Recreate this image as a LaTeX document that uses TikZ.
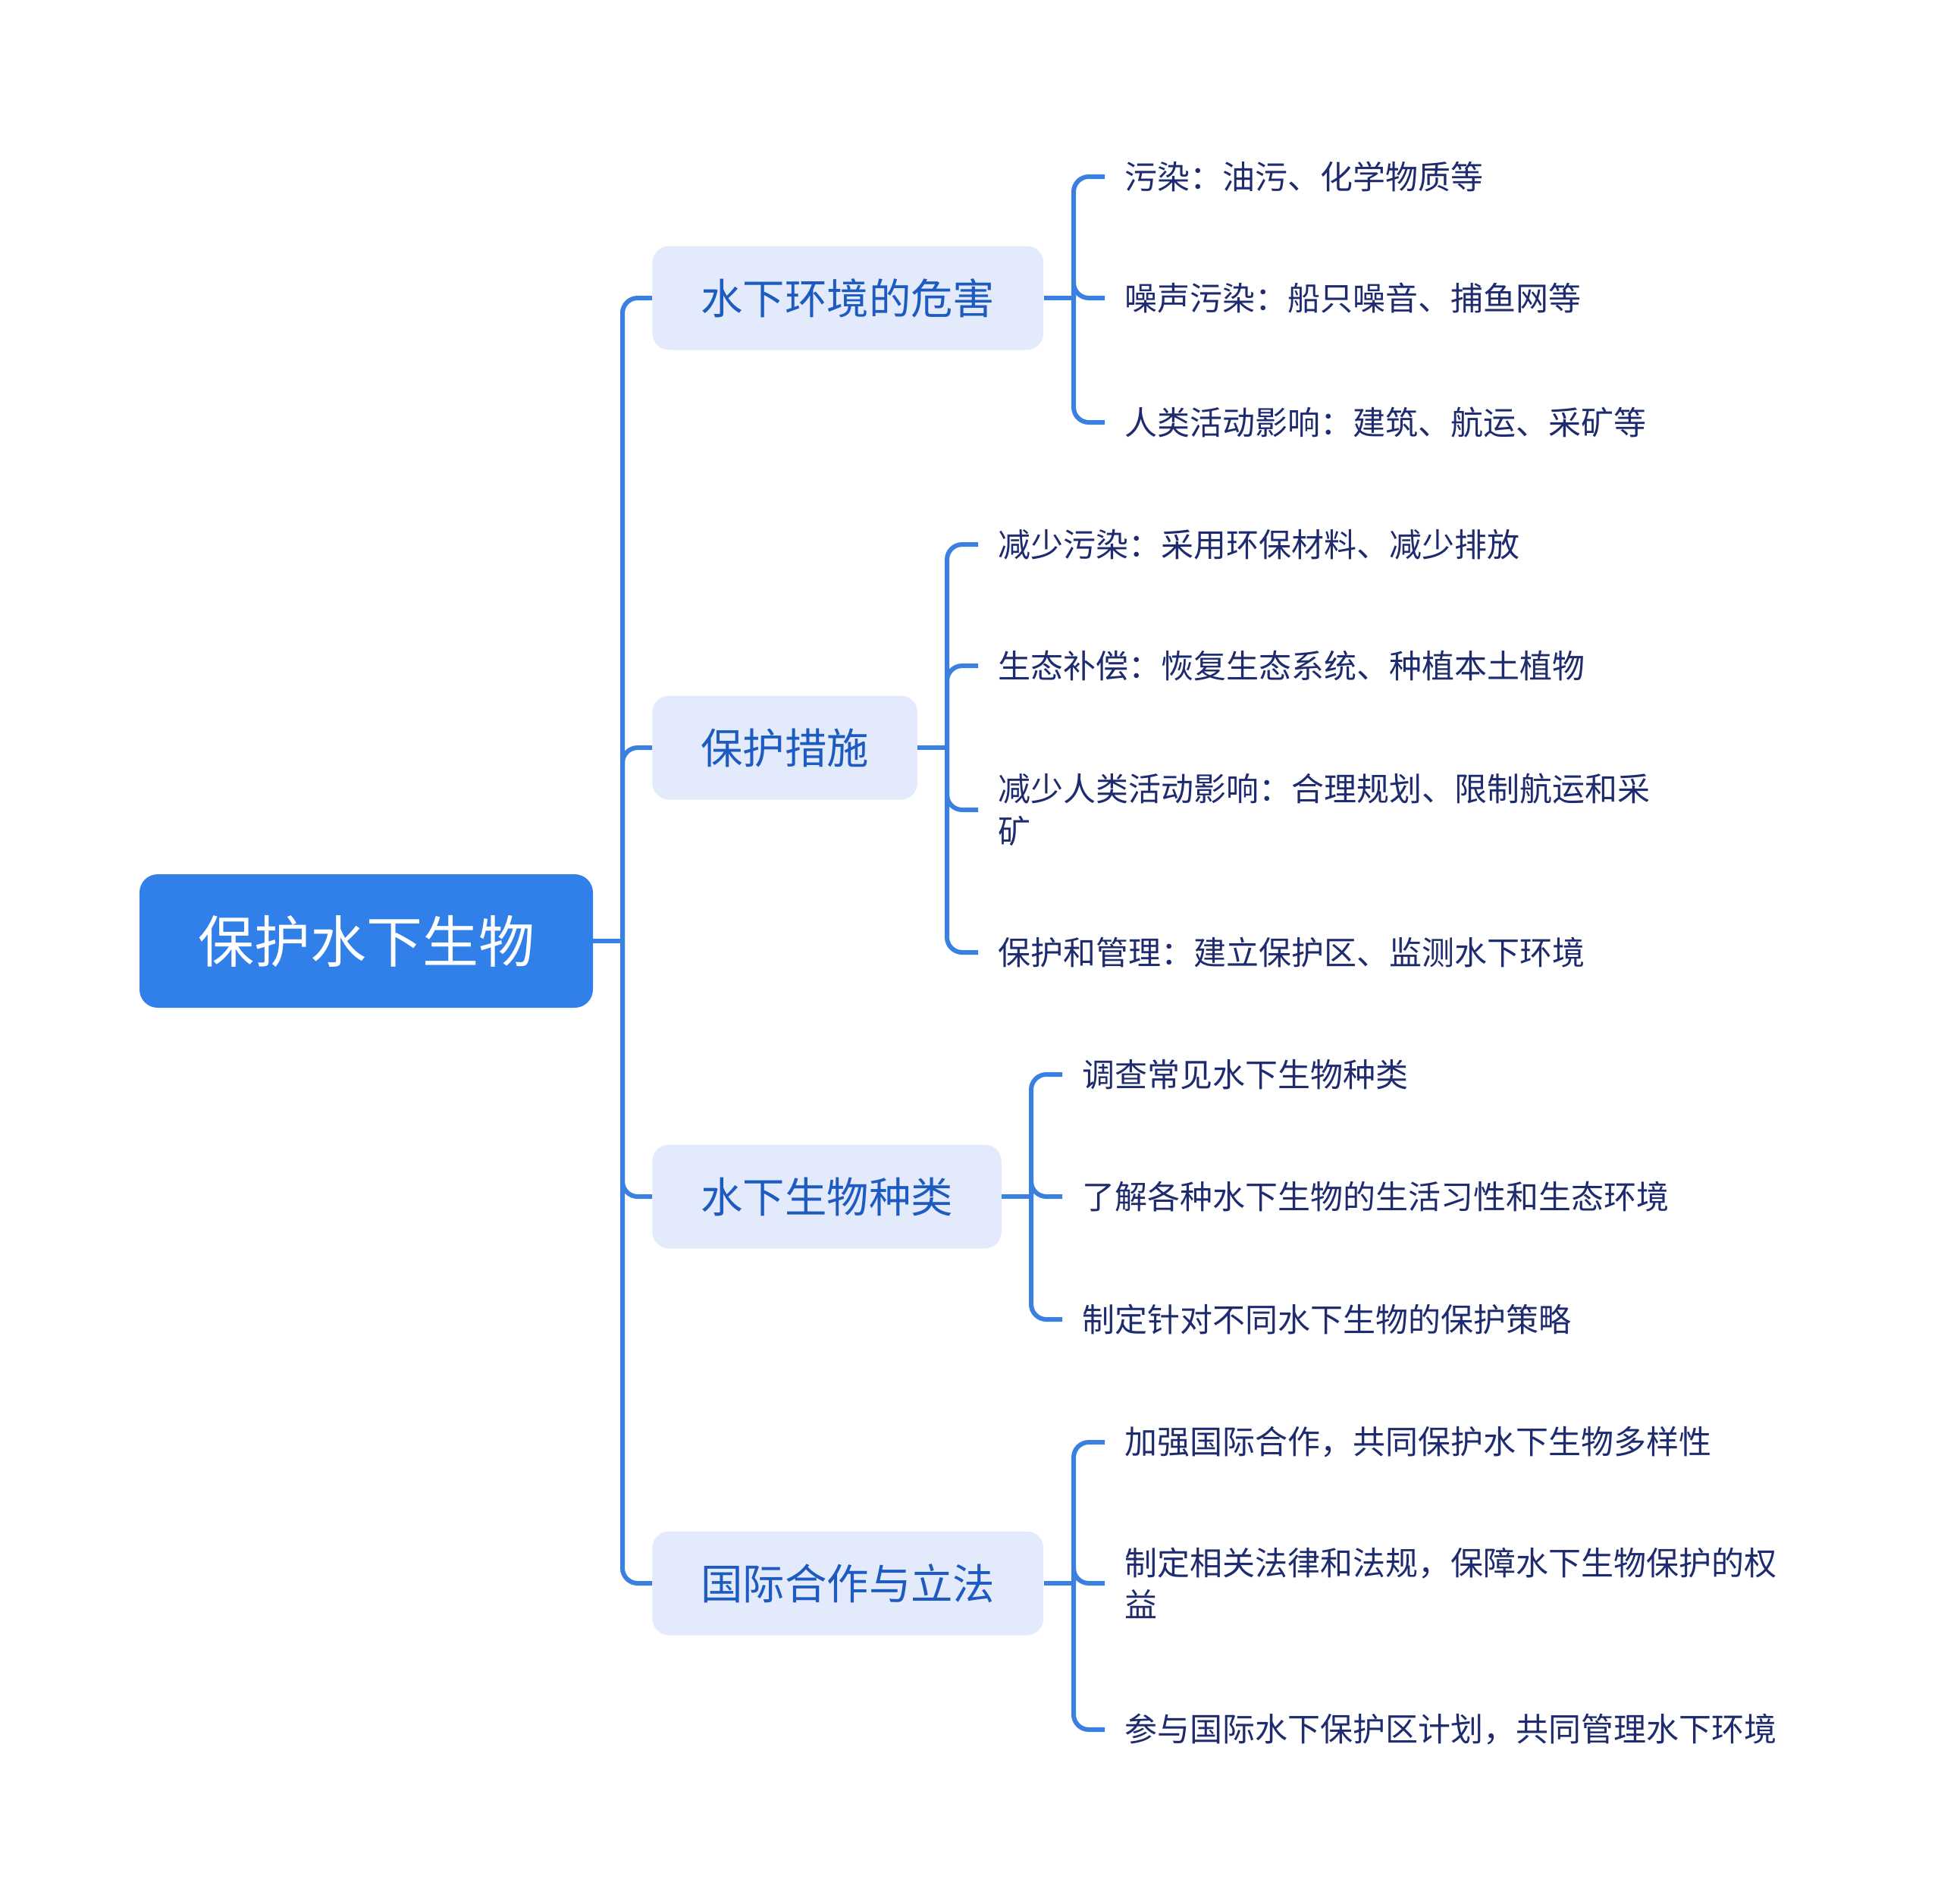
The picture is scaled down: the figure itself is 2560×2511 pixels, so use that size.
\documentclass[tikz,border=0pt]{standalone}
\usepackage{fontspec}
\setmainfont{Noto Sans CJK SC}
\definecolor{rootblue}{HTML}{3180E9}
\definecolor{linkblue}{HTML}{3A80E0}
\definecolor{subfill}{HTML}{E3EAFB}
\definecolor{subtext}{HTML}{1D5BC0}
\definecolor{leaftext}{HTML}{1E2B6E}
\begin{document}
\begin{tikzpicture}[x=0.5pt,y=-0.5pt,
  conn/.style={draw=linkblue,line width=3pt},
  elbow/.style={conn,rounded corners=10pt},
  rootbox/.style={fill=rootblue,rounded corners=12pt,minimum width=299pt,minimum height=88pt,text=white,font=\fontsize{37}{44}\selectfont,inner sep=0pt},
  subbox/.style={fill=subfill,rounded corners=11pt,minimum height=68.5pt,inner xsep=32pt,text=subtext,font=\fontsize{27.7}{33}\selectfont,anchor=west},
  leaf/.style={anchor=west,inner xsep=13pt,inner ysep=2pt,text=leaftext,font=\fontsize{21.5}{27.8}\selectfont,align=left}
]
\useasboundingbox (0,0) rectangle (2560,2511);
\node[rootbox] (root) at (483,1241) {保护水下生物};
\node[subbox] (A) at (860,393) {水下环境的危害};
\node[subbox] (B) at (860,986) {保护措施};
\node[subbox] (C) at (860,1578) {水下生物种类};
\node[subbox] (D) at (860,2088) {国际合作与立法};

\coordinate (t) at (821,1241);
\draw[conn] (root.east) -- (t);
\foreach \n in {A,B,C,D} \draw[elbow] (t) |- (\n.west);

% group A
\node[leaf] (a1) at (1457,233) {污染：油污、化学物质等};
\node[leaf] (a2) at (1457,393) {噪声污染：船只噪音、捕鱼网等};
\node[leaf] (a3) at (1457,557) {人类活动影响：建筑、航运、采矿等};
\coordinate (ta) at (1416,393);
\draw[conn] (A.east) -- (ta);
\foreach \n in {a1,a2,a3} \draw[elbow] (ta) |- (\n.west);

% group B
\node[leaf] (b1) at (1290,718) {减少污染：采用环保材料、减少排放};
\node[leaf] (b2) at (1290,878) {生态补偿：恢复生态系统、种植本土植物};
\node[leaf] (b3) at (1290,1068) {减少人类活动影响：合理规划、限制航运和采\\矿};
\node[leaf] (b4) at (1290,1256) {保护和管理：建立保护区、监测水下环境};
\coordinate (tb) at (1249,986);
\draw[conn] (B.east) -- (tb);
\foreach \n in {b1,b2,b3,b4} \draw[elbow] (tb) |- (\n.west);

% group C
\node[leaf] (c1) at (1401,1417) {调查常见水下生物种类};
\node[leaf] (c2) at (1401,1578) {了解各种水下生物的生活习性和生态环境};
\node[leaf] (c3) at (1401,1740) {制定针对不同水下生物的保护策略};
\coordinate (tc) at (1360,1578);
\draw[conn] (C.east) -- (tc);
\foreach \n in {c1,c2,c3} \draw[elbow] (tc) |- (\n.west);

% group D
\node[leaf] (d1) at (1457,1902) {加强国际合作，共同保护水下生物多样性};
\node[leaf] (d2) at (1457,2088) {制定相关法律和法规，保障水下生物保护的权\\益};
\node[leaf] (d3) at (1457,2281) {参与国际水下保护区计划，共同管理水下环境};
\coordinate (td) at (1416,2088);
\draw[conn] (D.east) -- (td);
\foreach \n in {d1,d2,d3} \draw[elbow] (td) |- (\n.west);
\end{tikzpicture}
\end{document}
